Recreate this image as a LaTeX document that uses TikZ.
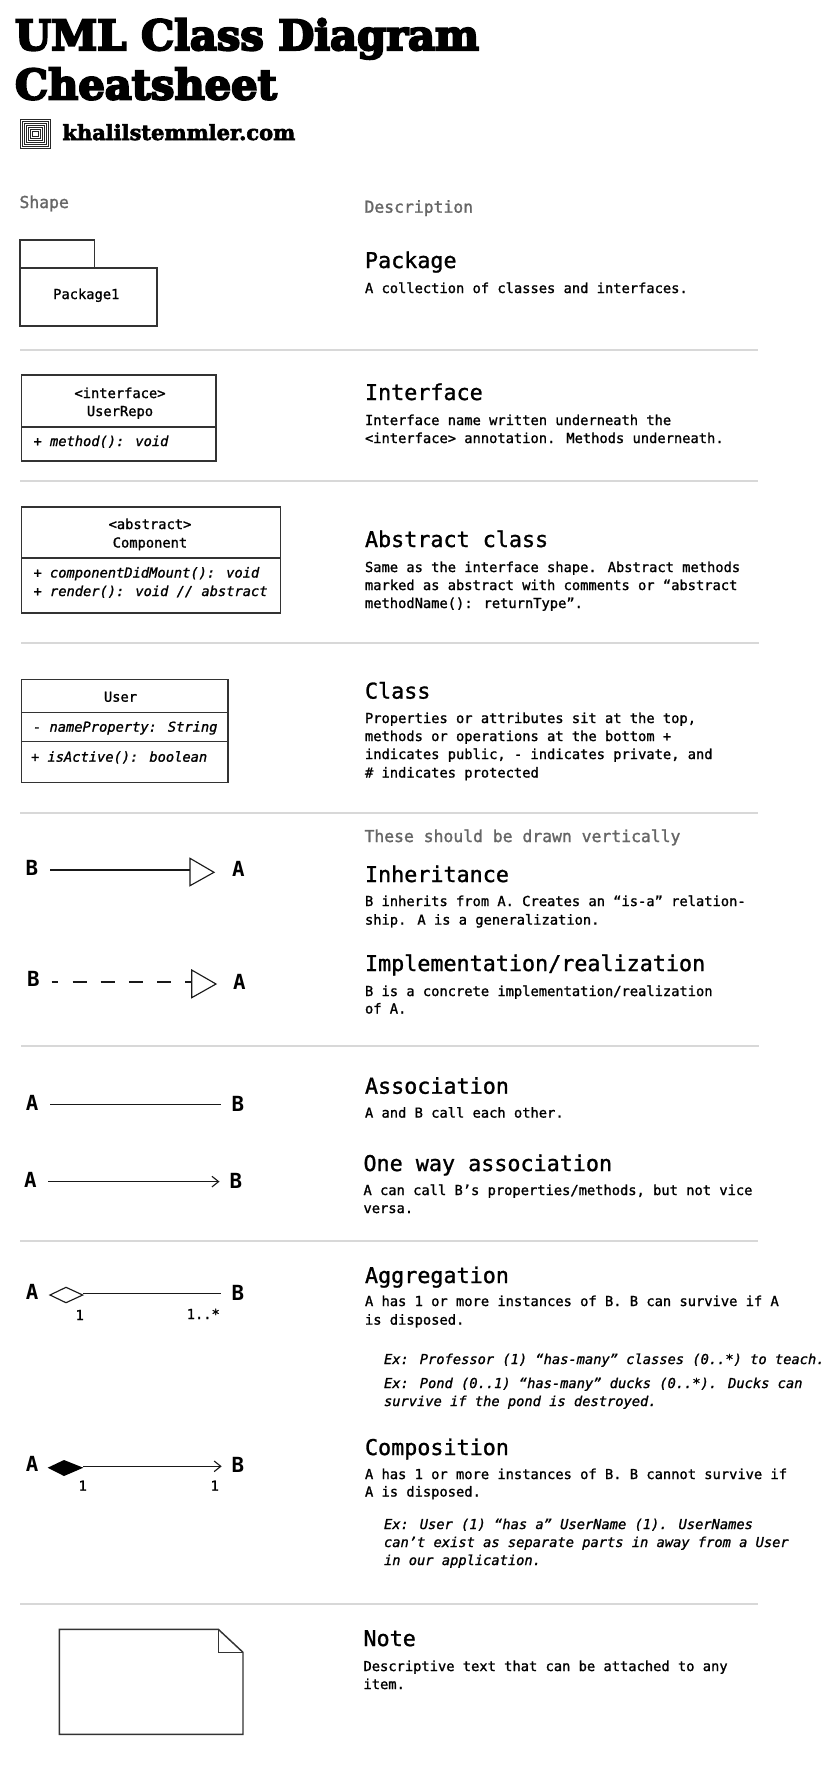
\documentclass[tikz,border=0pt]{standalone}
\usepackage{fontspec}
\setmonofont{DejaVu Sans Mono}
\newfontfamily\bodyfont[FakeBold=1.3]{DejaVu Sans Mono}
\newfontfamily\italfont[FakeBold=1.2,ItalicFont={DejaVu Sans Mono Oblique}]{DejaVu Sans Mono}
\newfontfamily\headfont[FakeBold=1.2]{DejaVu Sans Mono}
\newfontfamily\grayfont[FakeBold=1.4]{DejaVu Sans Mono}
\newfontfamily\titlefont[FakeBold=5]{DejaVu Serif Bold}
\newfontfamily\sitefont[FakeBold=3]{DejaVu Serif Bold}
\newfontfamily\letterfont{DejaVu Sans Mono Bold}
\usetikzlibrary{arrows.meta}
\definecolor{rulegray}{HTML}{D8D8D8}
\definecolor{labelgray}{HTML}{666666}
\definecolor{shapeline}{HTML}{333333}
\tikzset{
  x=0.75pt,y=-0.75pt,
  txt/.style={anchor=base west,inner sep=0pt,outer sep=0pt,text=black},
  title/.style={txt,font=\titlefont\fontsize{31.2pt}{31.2pt}\selectfont},
  site/.style={txt,font=\sitefont\fontsize{15.7pt}{15.7pt}\selectfont},
  head/.style={txt,font=\headfont\fontsize{16.3pt}{16.3pt}\selectfont},
  body/.style={txt,font=\bodyfont\fontsize{10.31pt}{10.31pt}\selectfont},
  ital/.style={txt,font=\italfont\itshape\fontsize{10.29pt}{10.29pt}\selectfont},
  gray/.style={txt,font=\grayfont\fontsize{12.3pt}{12.3pt}\selectfont,text=labelgray},
  letter/.style={txt,font=\letterfont\fontsize{15.6pt}{15.6pt}\selectfont},
  ctr/.style={body,anchor=base},
  hr/.style={draw=rulegray,line width=1.5pt},
  shp/.style={draw=shapeline,line width=1.1pt},
  conn/.style={draw=black!90,line width=0.85pt},
  openarrow/.style={-{Straight Barb[length=5pt,width=8pt,line width=0.85pt]}},
}
\begin{document}
\begin{tikzpicture}
\useasboundingbox (0,0) rectangle (826,1774);
\fill[white] (0,0) rectangle (826,1774);
% header
\node[title] (t1) at (15,50) {UML Class Diagram};
\node[title] (t2) at (15,99.3) {Cheatsheet};
\foreach \i in {0,2,...,12}{
  \draw[black!85,line width=0.75pt] (20+\i,119.5+\i) rectangle (50-\i,148-\i);
}
\node[site] (site) at (62.5,140) {khalilstemmler.com};
\node[gray] (shape) at (19.5,208) {Shape};
\node[gray] (descr) at (364.5,212.7) {Description};
% rules
\draw[hr] (20,350) -- (758,350);
\draw[hr] (20,481) -- (758,481);
\draw[hr] (21,643) -- (759,643);
\draw[hr] (20,812.5) -- (758,812.5);
\draw[hr] (21,1045.5) -- (759,1045.5);
\draw[hr] (20,1240.5) -- (758,1240.5);
\draw[hr] (20,1604) -- (758,1604);
% package
\draw[shp] (20,268) rectangle (94.5,240);
\draw[shp] (20,268) rectangle (157,326);
\node[ctr] (pk) at (86.3,299) {Package1};
\node[head] at (365,268) {Package};
\node[body] at (365,293) {A collection of classes and interfaces.};
% interface
\draw[shp] (21.6,375) rectangle (215.8,461);
\draw[shp] (21.6,427) -- (215.8,427);
\node[ctr] at (120,398) {<interface>};
\node[ctr] at (120,416) {UserRepo};
\node[ital] at (33.5,446) {+ method(): void};
\node[head] at (365,400) {Interface};
\node[body] at (365,425) {Interface name written underneath the};
\node[body] at (365,443) {<interface> annotation. Methods underneath.};
% abstract
\draw[shp] (21.6,507) rectangle (280.5,613);
\draw[shp] (21.6,558) -- (280.5,558);
\node[ctr] at (150,529) {<abstract>};
\node[ctr] at (150,547.5) {Component};
\node[ital] at (33.5,577.5) {+ componentDidMount(): void};
\node[ital] at (33.5,596) {+ render(): void // abstract};
\node[head] at (365,547) {Abstract class};
\node[body] at (365,572) {Same as the interface shape. Abstract methods};
\node[body] at (365,590) {marked as abstract with comments or “abstract};
\node[body] at (365,608) {methodName(): returnType”.};
% class
\draw[shp] (21.7,679.3) rectangle (228,782.7);
\draw[shp] (21.7,712.7) -- (228,712.7);
\draw[shp] (21.7,741.3) -- (228,741.3);
\node[ctr] at (120.5,701.7) {User};
\node[ital] at (33,731.7) {- nameProperty: String};
\node[ital] at (31,761.7) {+ isActive(): boolean};
\node[head] at (365,698.6) {Class};
\node[body] at (365,723) {Properties or attributes sit at the top,};
\node[body] at (365,741) {methods or operations at the bottom +};
\node[body] at (365,759) {indicates public, - indicates private, and};
\node[body] at (365,777.5) {\# indicates protected};
% inheritance
\node[gray] at (364.5,842) {These should be drawn vertically};
\node[letter] (b1) at (25.5,875) {B};
\node[letter] (a1) at (232,876.7) {A};
\coordinate (b1e) at (50,870);
\coordinate (tb1) at (190,870);
\draw[conn] (b1e) -- (tb1);
\draw[conn] (190,858.3) -- (214,872.3) -- (190,885.7) -- cycle;
\node[head] at (365,882) {Inheritance};
\node[body] at (365,906) {B inherits from A. Creates an “is-a” relation-};
\node[body] at (365,924.6) {ship. A is a generalization.};
% implementation
\node[letter] (b2) at (27,986.7) {B};
\node[letter] (a2) at (233,989) {A};
\coordinate (b2e) at (51.7,982);
\coordinate (tb2) at (191.7,982);
\draw[conn,dash pattern=on 10.5pt off 10.65pt,dash phase=5.55pt] (b2e) -- (tb2);
\draw[conn] (191.7,970) -- (216,984) -- (191.7,997.7) -- cycle;
\node[head] at (365,971) {Implementation/realization};
\node[body] at (365,996) {B is a concrete implementation/realization};
\node[body] at (365,1013.5) {of A.};
% association
\node[letter] (a3) at (26,1110.5) {A};
\node[letter] (b3) at (231.5,1111.5) {B};
\coordinate (a3e) at (50,1104.5);
\coordinate (b3e) at (221,1104.5);
\draw[conn] (a3e) -- (b3e);
\node[head] at (365,1093.7) {Association};
\node[body] at (365,1117.6) {A and B call each other.};
% one way
\node[letter] (a4) at (24.2,1187.5) {A};
\node[letter] (b4) at (229.5,1188.5) {B};
\coordinate (a4e) at (48.4,1181.6);
\coordinate (b4e) at (219.5,1181.6);
\draw[conn,openarrow] (a4e) -- (b4e);
\node[head] at (363.5,1171) {One way association};
\node[body] at (363.5,1195) {A can call B’s properties/methods, but not vice};
\node[body] at (363.5,1213) {versa.};
% aggregation
\node[letter] (a5) at (26,1299.3) {A};
\node[letter] (b5) at (231.5,1300.7) {B};
\coordinate (a5e) at (82.7,1293.7);
\coordinate (b5e) at (220.7,1293.7);
\draw[conn,line width=1.1pt] (a5e) -- (b5e);
\draw[conn] (50,1295) -- (66,1287.3) -- (82.7,1295) -- (66,1302.7) -- cycle;
\node[ctr] at (79.7,1320) {1};
\node[body] at (186.7,1319) {1..*};
\node[head] at (365,1283) {Aggregation};
\node[body] at (365,1306) {A has 1 or more instances of B. B can survive if A};
\node[body] at (365,1324.6) {is disposed.};
\node[ital] at (384,1364) {Ex: Professor (1) “has-many” classes (0..*) to teach.};
\node[ital] at (384,1388) {Ex: Pond (0..1) “has-many” ducks (0..*). Ducks can};
\node[ital] at (384,1406) {survive if the pond is destroyed.};
% composition
\node[letter] (a6) at (26,1471.7) {A};
\node[letter] (b6) at (231.5,1472.7) {B};
\coordinate (a6e) at (83.3,1466.3);
\coordinate (b6e) at (221.7,1466.3);
\draw[conn,openarrow] (a6e) -- (b6e);
\fill[black] (47.7,1467.7) -- (64,1460) -- (83.3,1467.7) -- (64,1476) -- cycle;
\node[ctr] at (82.7,1490.7) {1};
\node[ctr] at (214.7,1490.7) {1};
\node[head] at (365,1455) {Composition};
\node[body] at (365,1479) {A has 1 or more instances of B. B cannot survive if};
\node[body] at (365,1496.5) {A is disposed.};
\node[ital] at (384,1529) {Ex: User (1) “has a” UserName (1). UserNames};
\node[ital] at (384,1547) {can’t exist as separate parts in away from a User};
\node[ital] at (384,1565) {in our application.};
% note
\draw[shp,line join=miter] (59.3,1629.3) -- (218.3,1629.3) -- (243,1652.3) -- (243,1734.3) -- (59.3,1734.3) -- cycle;
\draw[shp] (218.3,1629.3) -- (218.3,1652.3) -- (243,1652.3);
\node[head] at (363.5,1646) {Note};
\node[body] at (363.5,1671) {Descriptive text that can be attached to any};
\node[body] at (363.5,1689) {item.};
\end{tikzpicture}
\end{document}
